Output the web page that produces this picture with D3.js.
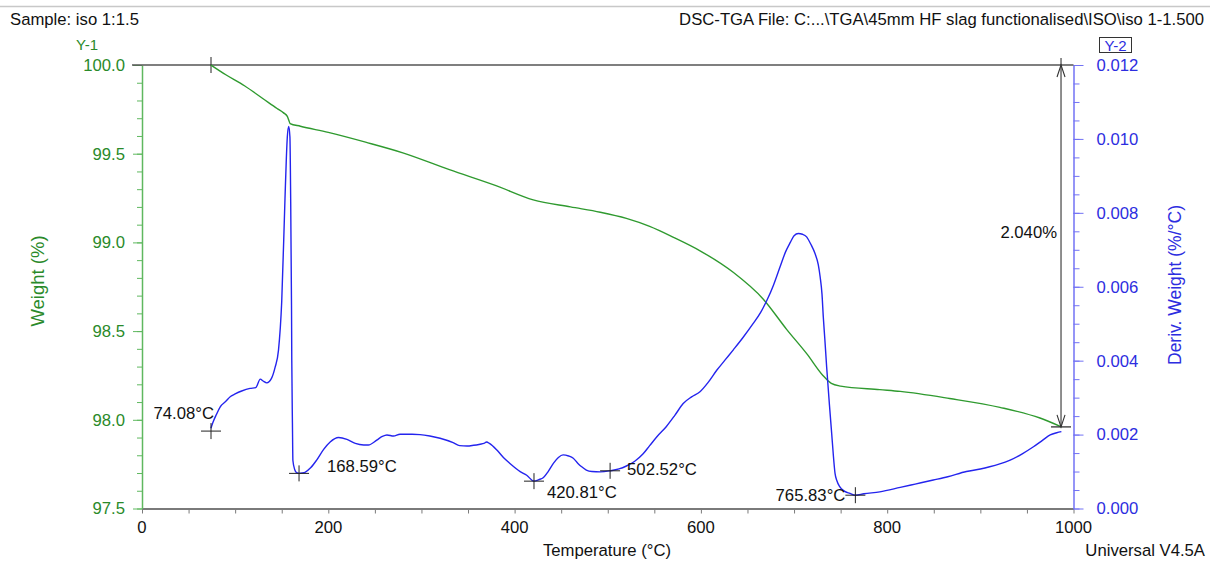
<!DOCTYPE html>
<html>
<head>
<meta charset="utf-8">
<script src="https://cdn.jsdelivr.net/npm/d3@7"></script>
<style>
  html, body { margin: 0; padding: 0; background: #fff; }
  svg { display: block; font-family: "Liberation Sans", Arial, sans-serif; }
</style>
</head>
<body>
<svg id="chart" width="1210" height="561"></svg>
<script>
// TGA weight curve (°C, %)
const weightTemp = [74, 90, 110, 130, 145, 152, 156, 157.5, 159, 170, 200, 240, 280, 330, 380, 420, 460, 492, 520, 545, 570, 600, 635, 667, 692, 714, 731, 740, 750, 792, 814, 867, 921, 964, 987];
const weightPct  = [100, 99.945, 99.883, 99.81, 99.755, 99.73, 99.71, 99.69, 99.67, 99.655, 99.62, 99.565, 99.505, 99.41, 99.32, 99.24, 99.2, 99.17, 99.135, 99.09, 99.03, 98.95, 98.83, 98.68, 98.51, 98.37, 98.25, 98.205, 98.19, 98.17, 98.16, 98.12, 98.07, 98.01, 97.96];

// Derivative weight curve (°C, %/°C × 1000)
const derivTemp = [74, 76, 80, 84, 90, 95, 100, 107, 116, 122, 127, 130, 134, 139, 143, 146.5, 150, 153.5, 155, 156, 157.5, 158.8, 159.6, 160.5, 160.8, 161.5, 162, 164, 166, 168.6, 172, 175, 181, 187.5, 195, 202, 211, 220, 229, 238, 243, 252, 258, 263, 270, 277, 290, 298.5, 309, 320, 334, 341, 349, 356, 363, 367, 370, 373, 381, 388, 395, 406, 413, 420.8, 426, 431, 436, 441.6, 447, 452, 458, 463, 468, 472, 477, 483, 492, 502.5, 512, 520, 529, 538, 545, 553, 563, 572, 581, 590, 599, 608, 617, 626, 635, 645, 656, 664, 671, 678, 685, 691, 696, 700, 704.6, 709, 713.5, 718, 722.5, 726, 728, 730, 731.4, 733, 735, 738, 740.4, 742, 744, 746, 749, 754, 760, 765.8, 775, 792, 814, 830, 849.5, 865, 885, 900, 910, 920, 932, 945, 957, 967, 975, 982, 987];
const derivMilli = [2.17, 2.32, 2.55, 2.75, 2.9, 3.03, 3.1, 3.18, 3.25, 3.27, 3.5, 3.45, 3.4, 3.52, 3.83, 4.28, 5.6, 8.38, 9.5, 10.05, 10.34, 10.05, 8.4, 5.5, 4.0, 2.3, 1.3, 1.05, 0.97, 0.95, 0.96, 0.98, 1.1, 1.31, 1.6, 1.8, 1.92, 1.87, 1.76, 1.72, 1.72, 1.85, 1.95, 1.99, 1.96, 2.01, 2.01, 2.0, 1.96, 1.9, 1.78, 1.7, 1.69, 1.71, 1.74, 1.76, 1.8, 1.76, 1.58, 1.38, 1.22, 1.0, 0.9, 0.74, 0.78, 0.84, 1.0, 1.22, 1.38, 1.45, 1.42, 1.36, 1.22, 1.13, 1.04, 1.0, 0.99, 1.02, 1.07, 1.15, 1.28, 1.48, 1.7, 1.95, 2.22, 2.52, 2.84, 3.02, 3.16, 3.42, 3.74, 4.02, 4.3, 4.62, 5.0, 5.3, 5.64, 6.05, 6.54, 6.95, 7.2, 7.38, 7.44, 7.42, 7.35, 7.15, 6.9, 6.6, 6.27, 5.8, 5.18, 4.6, 3.83, 2.8, 2.03, 1.5, 0.95, 0.75, 0.59, 0.47, 0.41, 0.36, 0.4, 0.45, 0.57, 0.66, 0.77, 0.86, 1.0, 1.07, 1.13, 1.2, 1.31, 1.48, 1.67, 1.85, 1.99, 2.05, 2.08];

// Marked derivative temperatures (°C)
const peakTemps = [74.08, 168.59, 420.81, 502.52, 765.83];

// Weight step analysis
const stepStartTemp = 74.08;
const stepEndTemp = 986.6;
const stepTop = 100.0;
const stepChange = 2.040;

// Axis ticks
const xTicks = [0, 200, 400, 600, 800, 1000];
const weightTicks = [97.5, 98.0, 98.5, 99.0, 99.5, 100.0];
const derivTicks = [0.000, 0.002, 0.004, 0.006, 0.008, 0.010, 0.012];

const GREEN = "#2f9a2f", GREEN_TXT = "#2a8a2a", GREEN_AX = "#5fb85f";
const BLUE = "#2424ee", BLUE_TXT = "#2d2de0", BLUE_AX = "#7272f4";
const FS = "16.7px";

const svg = d3.select("#chart");
const L = 142, R = 1073.5, T = 65, B = 508.5;

const x = d3.scaleLinear().domain([0, 1000]).range([L, R]);
const yW = d3.scaleLinear().domain([97.5, 100]).range([B, T]);
const yD = d3.scaleLinear().domain([0, 0.012]).range([B, T]);

// page frame line
svg.append("line").attr("x1", 0).attr("x2", 1210).attr("y1", 6.5).attr("y2", 6.5)
  .attr("stroke", "#c8c8c8").attr("stroke-width", 1.5);

// header
svg.append("text").attr("x", 10).attr("y", 25).attr("font-size", FS).attr("fill", "#111")
  .text("Sample: iso 1:1.5");
svg.append("text").attr("x", 1204).attr("y", 25).attr("font-size", FS).attr("fill", "#111")
  .attr("text-anchor", "end")
  .text("DSC-TGA File: C:...\\TGA\\45mm HF slag functionalised\\ISO\\iso 1-1.500");

// Y labels
svg.append("text").attr("x", 87).attr("y", 50).attr("font-size", "15px").attr("fill", GREEN_TXT)
  .attr("text-anchor", "middle").text("Y-1");
svg.append("rect").attr("x", 1099.5).attr("y", 37.5).attr("width", 32).attr("height", 15)
  .attr("fill", "none").attr("stroke", "#333").attr("stroke-width", 1);
svg.append("text").attr("x", 1115.5).attr("y", 50.5).attr("font-size", "15px").attr("fill", BLUE_TXT)
  .attr("text-anchor", "middle").text("Y-2");

// X axis
const xAxis = svg.append("g").attr("transform", `translate(0,${B})`)
  .call(d3.axisBottom(x).tickValues(d3.range(0, 1001, 50)).tickSize(5).tickSizeOuter(0).tickFormat(""));
xAxis.select(".domain").attr("stroke", "#7a7a7a").attr("stroke-width", 2);
xAxis.selectAll(".tick line").attr("stroke", "#7a7a7a");
svg.append("g").selectAll("text").data(xTicks).join("text")
  .attr("x", d => x(d)).attr("y", 533).attr("text-anchor", "middle")
  .attr("font-size", FS).attr("fill", "#111").text(d => d);

// Left (weight) axis
const yWMinor = svg.append("g").attr("transform", `translate(${L},0)`)
  .call(d3.axisLeft(yW).tickValues(d3.range(0, 26).map(i => 97.5 + i * 0.1)).tickSize(5).tickSizeOuter(0).tickFormat(""));
yWMinor.select(".domain").attr("stroke", GREEN_AX).attr("stroke-width", 1.5);
yWMinor.selectAll(".tick line").attr("stroke", GREEN_AX);
const yWMajor = svg.append("g").attr("transform", `translate(${L},0)`)
  .call(d3.axisLeft(yW).tickValues(weightTicks).tickSize(9).tickPadding(8).tickSizeOuter(0).tickFormat(d3.format(".1f")));
yWMajor.select(".domain").remove();
yWMajor.selectAll(".tick line").attr("stroke", GREEN_AX);
yWMajor.selectAll(".tick text").attr("fill", GREEN_TXT).attr("font-size", FS)
  .attr("font-family", "Liberation Sans, Arial, sans-serif");

// Right (derivative) axis
const yDMinor = svg.append("g").attr("transform", `translate(${R},0)`)
  .call(d3.axisRight(yD).tickValues(d3.range(0, 25).map(i => i * 0.0005)).tickSize(6).tickSizeOuter(0).tickFormat(""));
yDMinor.select(".domain").attr("stroke", BLUE_AX).attr("stroke-width", 1.5);
yDMinor.selectAll(".tick line").attr("stroke", BLUE_AX);
const yDMajor = svg.append("g").attr("transform", `translate(${R},0)`)
  .call(d3.axisRight(yD).tickValues(derivTicks).tickSize(10).tickPadding(13).tickSizeOuter(0).tickFormat(d3.format(".3f")));
yDMajor.select(".domain").remove();
yDMajor.selectAll(".tick line").attr("stroke", BLUE_AX);
yDMajor.selectAll(".tick text").attr("fill", BLUE_TXT).attr("font-size", FS)
  .attr("font-family", "Liberation Sans, Arial, sans-serif");

// Axis titles
svg.append("text").attr("transform", "translate(44,281) rotate(-90)")
  .attr("text-anchor", "middle").attr("font-size", "18.5px").attr("fill", GREEN_TXT).text("Weight (%)");
svg.append("text").attr("transform", "translate(1181,285) rotate(-90)")
  .attr("text-anchor", "middle").attr("font-size", "17.5px").attr("fill", BLUE_TXT).text("Deriv. Weight (%/°C)");
svg.append("text").attr("x", 607).attr("y", 556).attr("text-anchor", "middle")
  .attr("font-size", FS).attr("fill", "#111").text("Temperature (°C)");
svg.append("text").attr("x", 1205).attr("y", 556).attr("text-anchor", "end")
  .attr("font-size", FS).attr("fill", "#111").text("Universal V4.5A");

// Step baseline at 100 %
svg.append("line").attr("x1", L - 10).attr("x2", R).attr("y1", yW(stepTop)).attr("y2", yW(stepTop))
  .attr("stroke", "#555").attr("stroke-width", 1.3);
svg.append("line").attr("x1", x(stepStartTemp)).attr("x2", x(stepStartTemp))
  .attr("y1", yW(stepTop) - 8).attr("y2", yW(stepTop) + 8).attr("stroke", "#222").attr("stroke-width", 1);

// Curves
const weightData = weightTemp.map((t, i) => [t, weightPct[i]]);
const derivData = derivTemp.map((t, i) => [t, derivMilli[i] / 1000]);

svg.append("path").datum(weightData)
  .attr("d", d3.line().x(d => x(d[0])).y(d => yW(d[1])).curve(d3.curveMonotoneX))
  .attr("fill", "none").attr("stroke", GREEN).attr("stroke-width", 1.4);

svg.append("path").datum(derivData)
  .attr("d", d3.line().x(d => x(d[0])).y(d => yD(d[1])).curve(d3.curveMonotoneX))
  .attr("fill", "none").attr("stroke", BLUE).attr("stroke-width", 1.4);

// Step arrow
const ax = x(stepEndTemp);
const yTop = yW(stepTop), yBot = yW(stepTop - stepChange);
svg.append("line").attr("x1", ax).attr("x2", ax).attr("y1", yTop).attr("y2", yBot)
  .attr("stroke", "#444").attr("stroke-width", 1.2);
svg.append("line").attr("x1", ax).attr("x2", ax).attr("y1", yTop - 7).attr("y2", yTop)
  .attr("stroke", "#222").attr("stroke-width", 1);
svg.append("path").attr("d", `M${ax - 4},${yTop + 12} L${ax},${yTop} L${ax + 4},${yTop + 12}`)
  .attr("fill", "none").attr("stroke", "#333").attr("stroke-width", 1.1);
svg.append("path").attr("d", `M${ax - 4},${yBot - 12} L${ax},${yBot} L${ax + 4},${yBot - 12}`)
  .attr("fill", "none").attr("stroke", "#333").attr("stroke-width", 1.1);
svg.append("line").attr("x1", ax - 10).attr("x2", ax + 10).attr("y1", yBot).attr("y2", yBot)
  .attr("stroke", "#333").attr("stroke-width", 1.3);
svg.append("text").attr("x", ax - 4).attr("y", (yTop + yBot) / 2 - 8).attr("text-anchor", "end")
  .attr("font-size", FS).attr("fill", "#111").text(stepChange.toFixed(3) + "%");

// Peak markers
const derivAt = t => {
  const i = d3.bisectLeft(derivTemp, t);
  if (i <= 0) return derivMilli[0] / 1000;
  const t0 = derivTemp[i - 1], t1 = derivTemp[i];
  const f = (t - t0) / (t1 - t0);
  return (derivMilli[i - 1] + f * (derivMilli[i] - derivMilli[i - 1])) / 1000;
};
const labelPlace = [
  { dx: 3, dy: -12, anchor: "end" },
  { dx: 28, dy: -1, anchor: "start" },
  { dx: 13, dy: 17, anchor: "start" },
  { dx: 17, dy: 4, anchor: "start" },
  { dx: -10, dy: 6, anchor: "end" }
];
const marks = svg.append("g");
peakTemps.forEach((t, i) => {
  const cx = x(t), cy = yD(derivAt(t)) + (i === 0 ? 3 : 0);
  marks.append("path").attr("d", `M${cx - 10},${cy} H${cx + 10} M${cx},${cy - 8} V${cy + 8}`)
    .attr("stroke", "#222").attr("stroke-width", 1).attr("fill", "none");
  marks.append("text").attr("x", cx + labelPlace[i].dx).attr("y", cy + labelPlace[i].dy)
    .attr("text-anchor", labelPlace[i].anchor).attr("font-size", FS).attr("fill", "#111")
    .text(t.toFixed(2) + "°C");
});
</script>
</body>
</html>
